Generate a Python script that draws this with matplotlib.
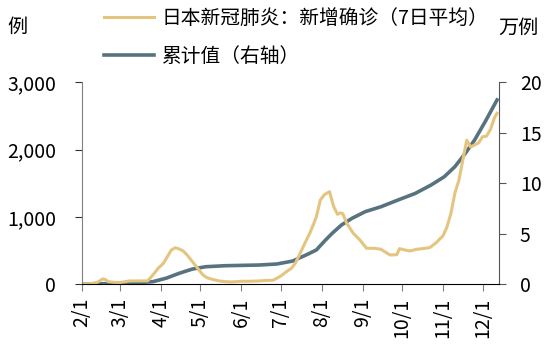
import datetime as dt

import matplotlib
matplotlib.use("Agg")
import matplotlib.pyplot as plt
import matplotlib.dates as mdates
from matplotlib.ticker import FuncFormatter

plt.rcParams['font.family'] = ['Noto Sans CJK SC', 'DejaVu Sans']

# daily new cases, 7-day average (例)
new_dates = ['02-01', '02-08', '02-13', '02-17', '02-19', '02-21', '02-25', '03-01',
             '03-08', '03-15', '03-22', '03-26', '03-30', '04-03', '04-06', '04-09',
             '04-12', '04-15', '04-18', '04-21', '04-24', '04-27', '04-30', '05-03',
             '05-06', '05-10', '05-15', '05-20', '05-25', '06-01', '06-08', '06-15',
             '06-20', '06-25', '06-28', '07-01', '07-05', '07-09', '07-12', '07-15',
             '07-18', '07-21', '07-23', '07-26', '07-28', '07-31', '08-03', '08-07',
             '08-10', '08-13', '08-15', '08-17', '08-20', '08-25', '08-30', '09-04',
             '09-10', '09-15', '09-19', '09-22', '09-27', '09-29', '10-03', '10-07',
             '10-12', '10-17', '10-22', '10-27', '11-01', '11-04', '11-07', '11-10',
             '11-13', '11-16', '11-19', '11-22', '11-25', '11-28', '12-01', '12-04',
             '12-07', '12-10', '12-12']
new_cases = [0, 10, 30, 80, 70, 40, 30, 25,
             49, 50, 50, 138, 237, 312, 410, 509,
             543, 524, 494, 435, 361, 287, 212, 138,
             98, 74, 50, 39, 35, 45, 45, 50,
             58, 60, 89, 123, 183, 237, 312, 430,
             558, 680, 757, 900, 1004, 1252, 1330, 1375,
             1160, 1040, 1060, 1050, 906, 757, 658, 535,
             535, 520, 470, 435, 440, 530, 510, 495,
             520, 530, 545, 620, 720, 850, 1050, 1350,
             1540, 1840, 2140, 2040, 2070, 2100, 2190, 2200,
             2300, 2470, 2540]

# cumulative cases (万例, right axis)
cum_dates = ['02-01', '03-01', '03-15', '03-26', '04-05', '04-15', '04-25', '05-05',
             '05-20', '06-15', '06-28', '07-10', '07-15', '07-21', '07-28', '08-04',
             '08-09', '08-16', '08-24', '09-03', '09-15', '09-28', '10-11', '10-23',
             '11-02', '11-10', '11-18', '11-25', '12-03', '12-12']
cum_cases = [0.0, 0.1, 0.15, 0.26, 0.6, 1.09, 1.51, 1.74,
             1.84, 1.91, 2.01, 2.3, 2.6, 2.95, 3.4, 4.39,
             5.05, 5.87, 6.53, 7.19, 7.68, 8.35, 9.0, 9.83,
             10.65, 11.64, 12.97, 14.29, 16.1, 18.25]

month_ticks = ['02-01', '03-01', '04-01', '05-01', '06-01', '07-01',
               '08-01', '09-01', '10-01', '11-01', '12-01']

label_new = '日本新冠肺炎：新增确诊（7日平均）'
label_cum = '累计值（右轴）'


def to_date(s):
    return dt.datetime.strptime('2020-' + s, '%Y-%m-%d')


yellow = '#E3C57F'
slate = '#587380'

fig = plt.figure(figsize=(5.48, 3.49), dpi=100)
ax = fig.add_axes([0.149, 0.1854, 0.7616, 0.5788])
ax2 = ax.twinx()

l1, = ax.plot([to_date(d) for d in new_dates], new_cases, color=yellow, lw=2.2,
              solid_joinstyle='round', zorder=2)
l2, = ax2.plot([to_date(d) for d in cum_dates], cum_cases, color=slate, lw=2.6,
               solid_joinstyle='round', zorder=3)

start = to_date('02-01')
ax.set_xlim(start, start + dt.timedelta(days=316.5))
ax.set_ylim(0, 3000)
ax2.set_ylim(0, 20)
ax.set_yticks([0, 1000, 2000, 3000])
ax2.set_yticks([0, 5, 10, 15, 20])
ax.yaxis.set_major_formatter(FuncFormatter(lambda v, p: f'{int(v):,}'))

ax.set_xticks([to_date(d) for d in month_ticks])
ax.xaxis.set_major_formatter(FuncFormatter(
    lambda v, p: f'{mdates.num2date(v).month}/{mdates.num2date(v).day}'))
for lab in ax.get_xticklabels():
    lab.set_rotation(90)

for a in (ax, ax2):
    a.spines['top'].set_visible(False)
ax2.spines['left'].set_visible(False)
ax2.spines['bottom'].set_visible(False)
ax.spines['right'].set_visible(False)
ax.spines['left'].set_color('#808080')
ax2.spines['right'].set_color('#555555')
ax.spines['bottom'].set_color('#000000')

ax.tick_params(axis='y', labelsize=14, length=5, pad=13.5, color='#333333')
ax.tick_params(axis='x', labelsize=14, length=5, pad=4.5, color='#808080')
ax2.tick_params(axis='y', labelsize=14, length=5, pad=10, color='#555555')

ax.set_zorder(ax2.get_zorder() + 1)
ax.patch.set_visible(False)

fig.text(17 / 548, 1 - 27 / 349, '例', fontsize=14.5, ha='center', va='center')
fig.text(518 / 548, 1 - 28.5 / 349, '万例', fontsize=14.5, ha='center', va='center')

fig.legend([l1, l2], [label_new, label_cum], loc='upper left',
           bbox_to_anchor=(104 / 548, 1 - 8 / 349), bbox_transform=fig.transFigure,
           frameon=False, fontsize=14.2, borderpad=0, borderaxespad=0,
           handlelength=2.54, handletextpad=0.36, labelspacing=0.85)

fig.savefig('out.png', dpi=100)
